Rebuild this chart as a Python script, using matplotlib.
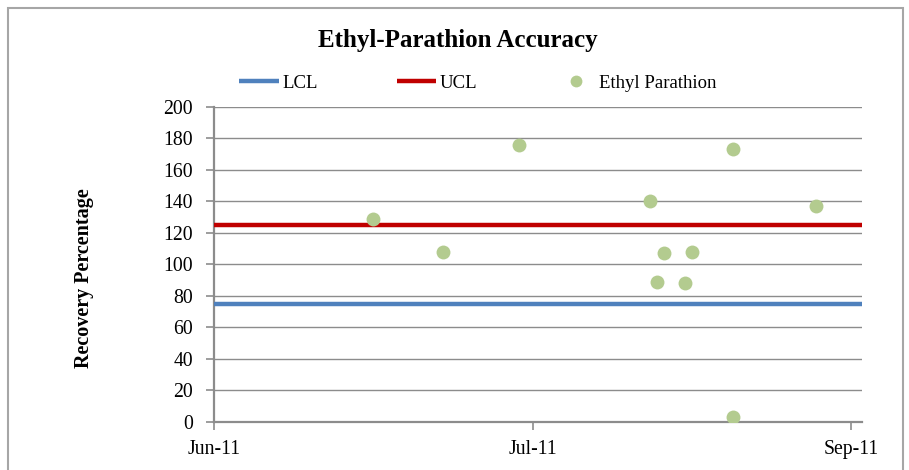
import numpy as np
import matplotlib
matplotlib.use("Agg")
import matplotlib.pyplot as plt
import matplotlib.dates as mdates
from matplotlib.patches import Rectangle

# data
dates = ["2011-06-24", "2011-07-04", "2011-07-15", "2011-08-03", "2011-08-04",
         "2011-08-05", "2011-08-08", "2011-08-09", "2011-08-15", "2011-08-15",
         "2011-08-27"]
recovery = [129, 108, 176, 140, 89, 107, 88, 108, 173, 3, 137]
lcl = 75
ucl = 125
tick_dates = ["2011-06-01", "2011-07-17", "2011-09-01"]
x_start = "2011-06-01"
x_end = "2011-09-02T14:00"

d = np.array(dates, dtype="datetime64[D]")
ticks = np.array(tick_dates, dtype="datetime64[D]")

plt.rcParams["font.family"] = ["Liberation Serif", "DejaVu Serif"]

fig = plt.figure(figsize=(9.09, 4.7), dpi=100)
ax = fig.add_axes([214 / 909, 1 - 421.7 / 470, (862 - 214) / 909, (421.7 - 106.7) / 470])

xlim = [np.datetime64(x_start), np.datetime64(x_end)]
ax.plot(xlim, [lcl, lcl], color="#4F81BD", lw=3.2, label="LCL", solid_capstyle="butt", zorder=3)
ax.plot(xlim, [ucl, ucl], color="#C00000", lw=3.2, label="UCL", solid_capstyle="butt", zorder=3)
ax.plot(d, recovery, "o", color="#B3CB8F", ms=10, mec="none", label="Ethyl Parathion", zorder=4)

ax.set_xlim(xlim)
ax.set_ylim(0, 200)
ax.set_yticks(range(0, 201, 20))
ax.set_xticks(ticks)
ax.xaxis.set_major_formatter(mdates.DateFormatter("%b-%y"))

ax.grid(axis="y", color="#8C8C8C", lw=1)
ax.set_axisbelow(True)
for s in ["top", "right"]:
    ax.spines[s].set_visible(False)
for s in ["left", "bottom"]:
    ax.spines[s].set_color("#8C8C8C")
    ax.spines[s].set_linewidth(1.6)
ax.tick_params(direction="out", length=6, width=1.2, color="#8C8C8C", labelsize=14.2)
ax.tick_params(axis="y", pad=9)
ax.tick_params(axis="x", pad=7)

ax.set_ylabel("Recovery Percentage", fontsize=14.5, fontweight="bold")
ax.yaxis.set_label_coords(-120 / 648, 0.456)

fig.text(458 / 909, 1 - 40 / 470, "Ethyl-Parathion Accuracy", ha="center", va="center",
         fontsize=18, fontweight="bold")

fig.legend(loc="center", bbox_to_anchor=(478 / 909, 1 - 83 / 470), ncol=3, frameon=False,
           fontsize=13.5, handlelength=2.1, handletextpad=0.2, columnspacing=4.2,
           markerscale=0.85)

fig.patches.append(Rectangle((8 / 909, -0.1), (903 - 8) / 909, 1.1 - 8 / 470,
                             transform=fig.transFigure, fill=False, ec="#A6A6A6", lw=1.5))

fig.savefig("out.png", dpi=100)
